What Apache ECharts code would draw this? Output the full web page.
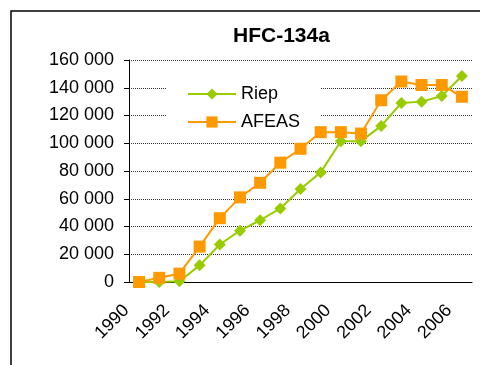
<!DOCTYPE html>
<html>
<head>
<meta charset="utf-8">
<script src="https://cdn.jsdelivr.net/npm/echarts@6/dist/echarts.min.js"></script>
<style>
  html, body { margin: 0; padding: 0; background: #fff; }
  #chart { width: 480px; height: 365px; }
</style>
</head>
<body>
<div id="chart"></div>
<script>
var years = ['1990','1991','1992','1993','1994','1995','1996','1997','1998',
             '1999','2000','2001','2002','2003','2004','2005','2006'];
var riep = [0, 0, 500, 12000, 27000, 37000, 44500, 53000, 67000, 79000,
            101500, 101500, 112500, 129000, 130000, 134000, 148500];
var afeas = [0, 3000, 6000, 25500, 46000, 61000, 71500, 86000, 96000, 108000,
             108000, 107000, 131000, 144500, 142000, 142000, 133500];

var font = "'Liberation Sans', Arial, sans-serif";

function fmt(v) {
    return String(v).replace(/\B(?=(\d{3})+(?!\d))/g, ' ');
}

var option = {
    backgroundColor: '#fff',
    animation: false,
    title: {
        text: 'HFC-134a',
        left: 233,
        top: 26,
        padding: 0,
        textStyle: { fontFamily: font, fontSize: 21, fontWeight: 'bold', color: '#000' }
    },
    graphic: [{
        type: 'rect',
        shape: { x: 11, y: 11, width: 500, height: 400 },
        style: { fill: null, stroke: '#000', lineWidth: 1.5 },
        silent: true
    }],
    legend: {
        data: ['Riep', 'AFEAS'],
        orient: 'vertical',
        left: 166,
        top: 71,
        z: 1,
        padding: [14, 20, 6, 21],
        backgroundColor: '#fff',
        itemWidth: 48,
        itemHeight: 14,
        itemGap: 10,
        textStyle: { fontFamily: font, fontSize: 18, color: '#000' }
    },
    grid: { left: 129, right: 8, top: 60, bottom: 83, containLabel: false },
    xAxis: {
        type: 'category',
        data: years,
        boundaryGap: true,
        axisLine: { lineStyle: { color: '#000', width: 1 } },
        axisTick: { interval: 0, length: 5, lineStyle: { color: '#000' } },
        axisLabel: {
            interval: 1,
            rotate: 45,
            margin: 13,
            padding: [0, 18, 0, 0],
            fontFamily: font,
            fontSize: 18,
            color: '#000'
        },
        splitLine: { show: false }
    },
    yAxis: {
        type: 'value',
        min: 0,
        max: 160000,
        interval: 20000,
        axisLine: { show: true, lineStyle: { color: '#000', width: 1 } },
        axisTick: { show: true, length: 5, lineStyle: { color: '#000' } },
        axisLabel: {
            margin: 15,
            formatter: fmt,
            fontFamily: font,
            fontSize: 18,
            color: '#000'
        },
        splitLine: { lineStyle: { color: '#333', width: 1, type: [1, 1] } }
    },
    series: [
        {
            name: 'Riep',
            type: 'line',
            data: riep,
            symbol: 'diamond',
            symbolSize: 12,
            color: '#99cc00',
            lineStyle: { width: 2, color: '#99cc00' },
            itemStyle: { color: '#99cc00' }
        },
        {
            name: 'AFEAS',
            type: 'line',
            data: afeas,
            symbol: 'rect',
            symbolSize: 12,
            color: '#ff9900',
            lineStyle: { width: 2, color: '#ff9900' },
            itemStyle: { color: '#ff9900' }
        }
    ]
};

var myChart = echarts.init(document.getElementById('chart'));
myChart.setOption(option);
</script>
</body>
</html>
